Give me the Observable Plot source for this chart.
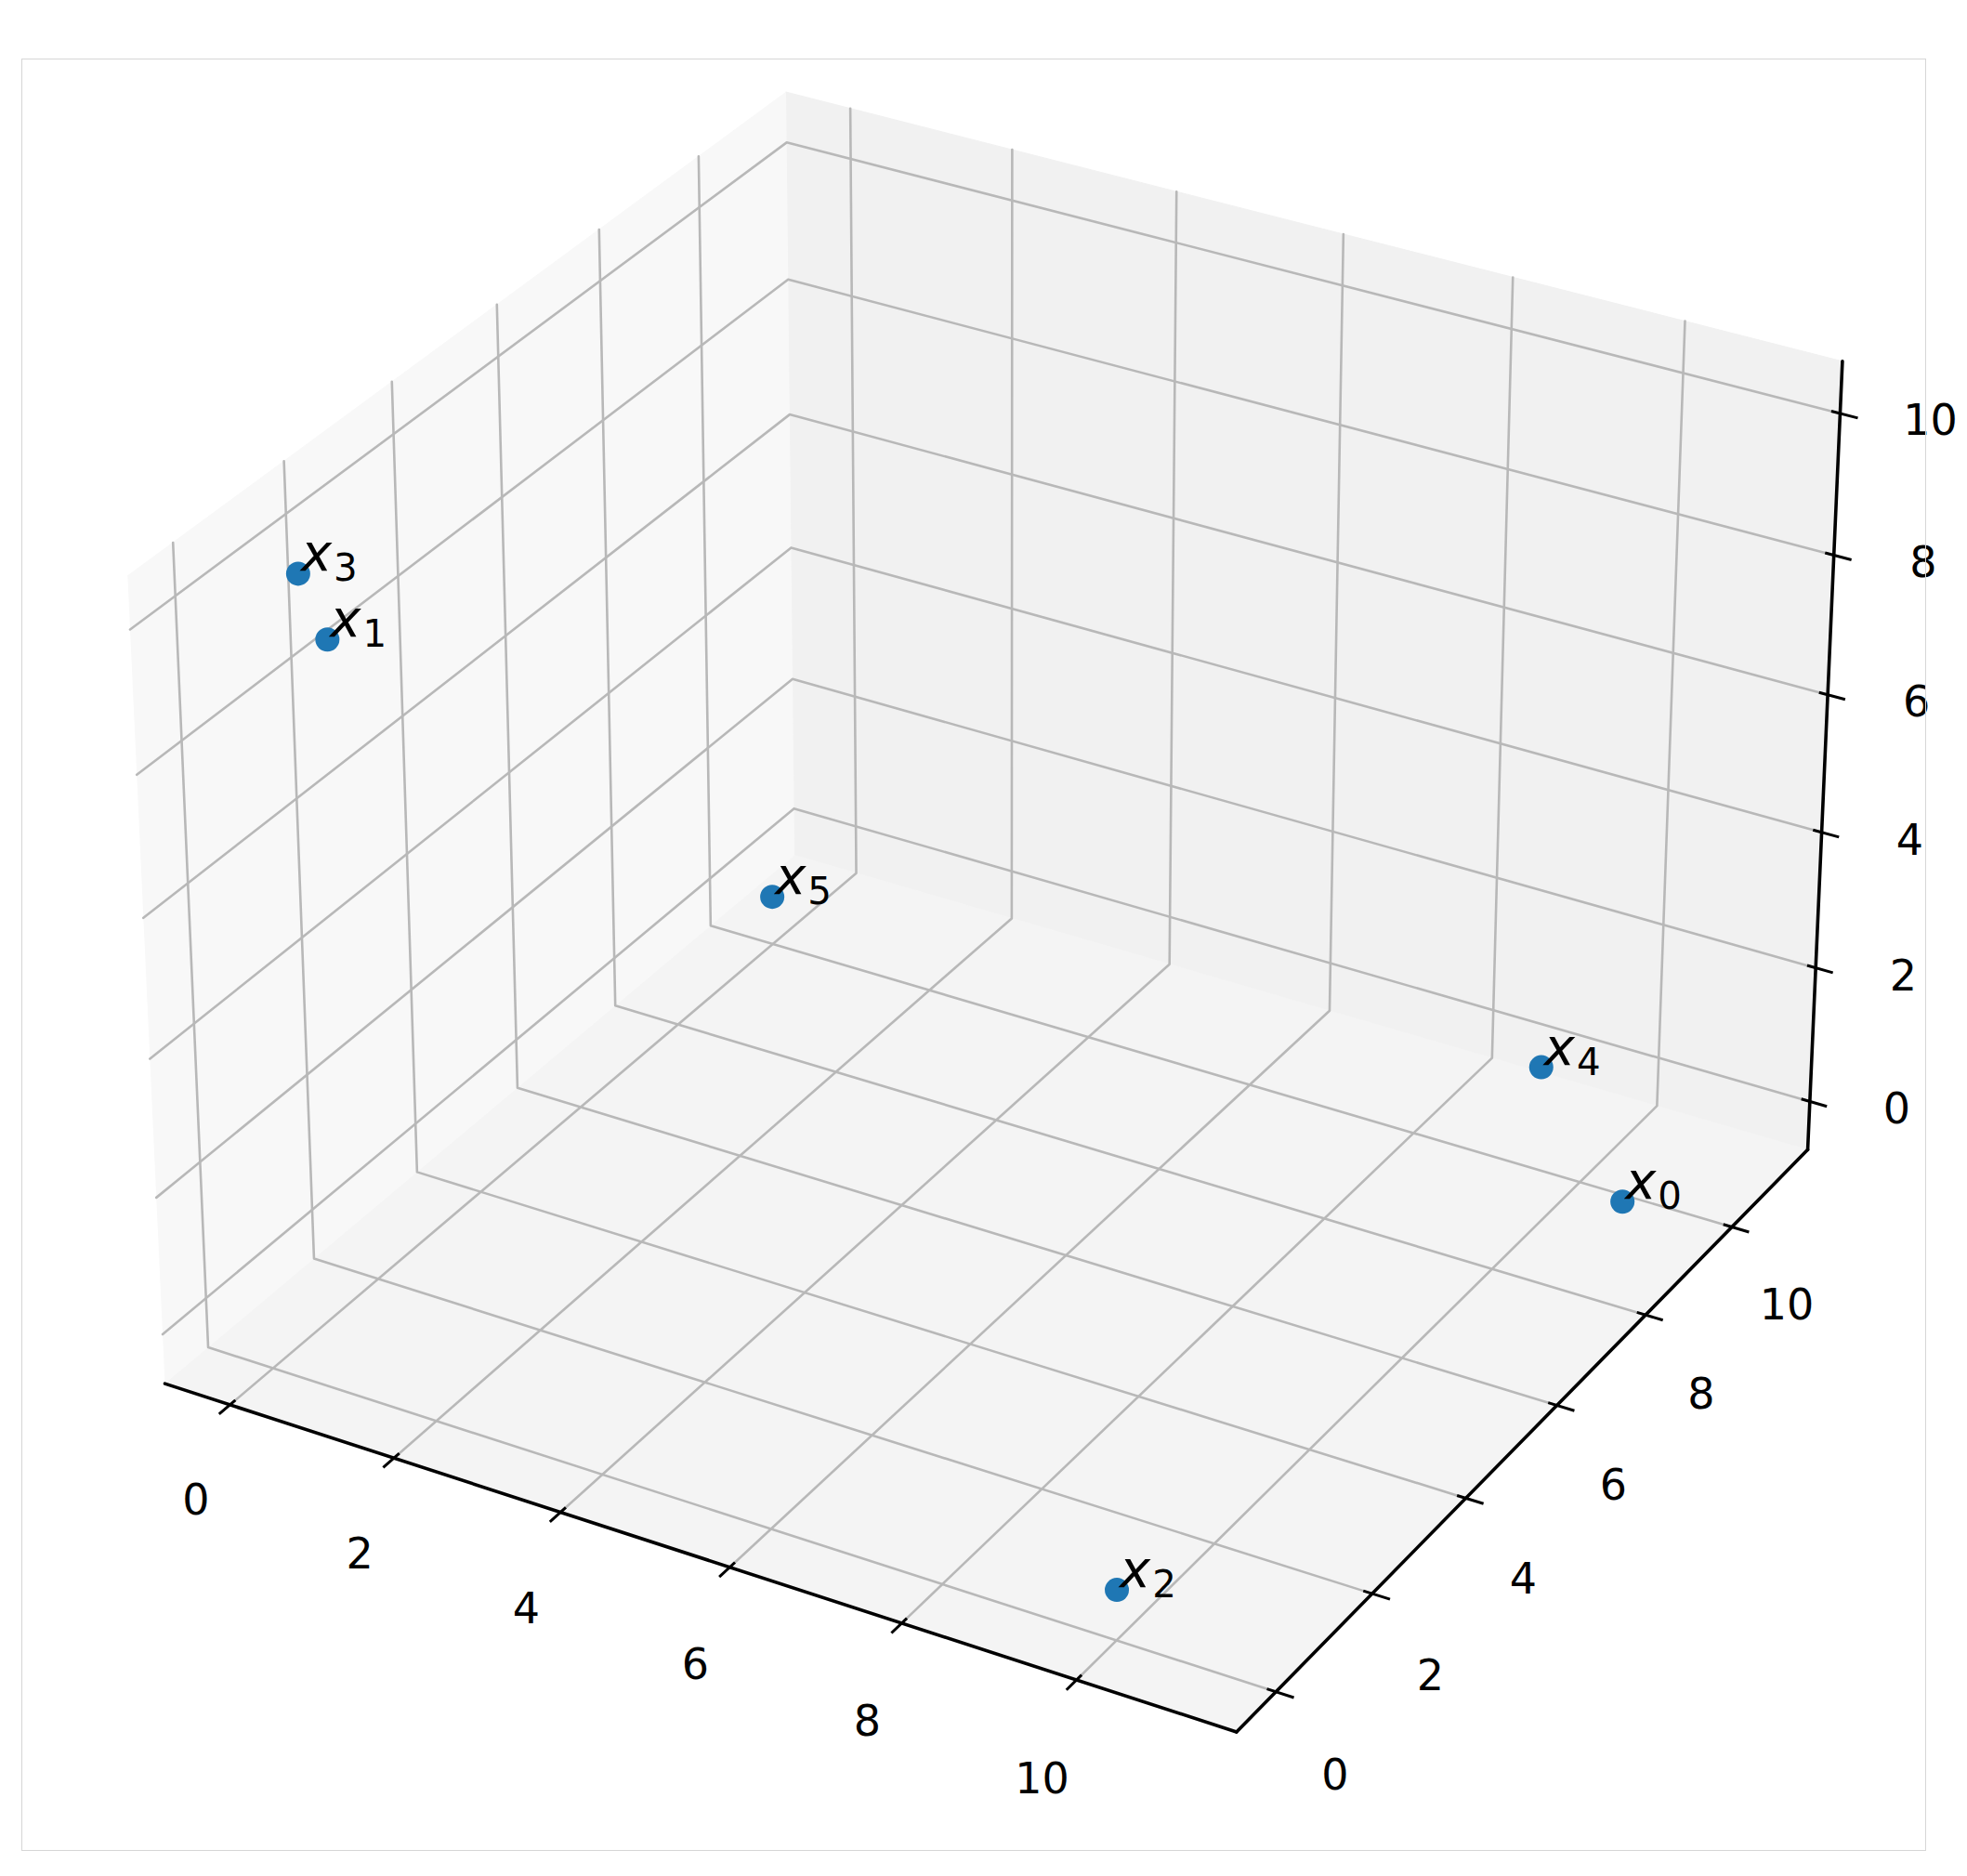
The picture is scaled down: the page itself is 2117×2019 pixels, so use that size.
<!DOCTYPE html>
<html>
<head>
<meta charset="utf-8">
<script src="https://cdn.jsdelivr.net/npm/d3@7"></script>
<script src="https://cdn.jsdelivr.net/npm/@observablehq/plot@0.6"></script>
<style>
  html, body { margin: 0; padding: 0; background: #ffffff; }
  #wrap { position: relative; width: 2117px; height: 2019px; overflow: hidden; }
  #frame { position: absolute; left: 23px; top: 63px; width: 2050px; height: 1929px;
           border: 1.5px solid #d6d6d6; pointer-events: none; box-sizing: border-box; }
</style>
</head>
<body>
<div id="wrap"><div id="frame"></div></div>
<script>
// ---- data ----
const pointNames = ["x0", "x1", "x2", "x3", "x4", "x5"];
const pointX = [11, 1, 10, 0, 9, 0];
const pointY = [9, 0, 0, 1, 11, 10];
const pointZ = [0, 10, 0, 10, 0, 0];
const xTicks = [0, 2, 4, 6, 8, 10];
const yTicks = [0, 2, 4, 6, 8, 10];
const zTicks = [0, 2, 4, 6, 8, 10];
const xTickLabels = ["0", "2", "4", "6", "8", "10"];
const yTickLabels = ["0", "2", "4", "6", "8", "10"];
const zTickLabels = ["0", "2", "4", "6", "8", "10"];

// ---- matplotlib-like 3D autoscale (5% margin) and pane extension (range/48) ----
function limits(vals) {
  const lo = d3.min(vals), hi = d3.max(vals);
  const m = (hi - lo) * 0.05;
  const a = lo - m, b = hi + m;
  const dd = (b - a) / 48;
  return {lo: a - dd, hi: b + dd, delta: (b - a) / 12};
}
const LX = limits(pointX), LY = limits(pointY), LZ = limits(pointZ);

// ---- matplotlib Axes3D projection (elev=30, azim=-60, persp, dist=10) ----
const elev = 30, azim = -60, dist = 10;
const aspect0 = [4, 4, 3];
const an = Math.hypot(...aspect0);
const box = aspect0.map(a => a * 1.8294640721620434 / an);
const Rc = box.map(b => b / 2);
const er = elev * Math.PI / 180, ar = azim * Math.PI / 180;
const ps = [Math.cos(er) * Math.cos(ar), Math.cos(er) * Math.sin(ar), Math.sin(er)];
const eye = Rc.map((r, i) => r + dist * ps[i]);
const norm = v => { const l = Math.hypot(...v); return v.map(c => c / l); };
const cross = (a, b) => [a[1]*b[2]-a[2]*b[1], a[2]*b[0]-a[0]*b[2], a[0]*b[1]-a[1]*b[0]];
const dot3 = (a, b) => a[0]*b[0] + a[1]*b[1] + a[2]*b[2];
const wv = norm(eye.map((e, i) => e - Rc[i]));
const uv = norm(cross([0, 0, 1], wv));
const vv = cross(wv, uv);
function proj(x, y, z) {
  const P = [
    (x - LX.lo) / (LX.hi - LX.lo) * box[0],
    (y - LY.lo) / (LY.hi - LY.lo) * box[1],
    (z - LZ.lo) / (LZ.hi - LZ.lo) * box[2]
  ];
  const d = P.map((p, i) => p - eye[i]);
  const zv = dot3(wv, d);
  return {X: dot3(uv, d) / -zv, Y: dot3(vv, d) / -zv};
}

// ---- panes ----
const {lo: x0, hi: x1} = LX, {lo: y0, hi: y1} = LY, {lo: z0, hi: z1} = LZ;
const panes = [
  {name: "xpane", fill: "#f8f8f8", corners: [[x0,y0,z0],[x0,y1,z0],[x0,y1,z1],[x0,y0,z1]]},
  {name: "ypane", fill: "#f1f1f1", corners: [[x0,y1,z0],[x1,y1,z0],[x1,y1,z1],[x0,y1,z1]]},
  {name: "zpane", fill: "#f4f4f4", corners: [[x0,y0,z0],[x1,y0,z0],[x1,y1,z0],[x0,y1,z0]]}
];

// ---- grid lines ----
const gridRows = [];
xTicks.forEach(t => [[t,y0,z0],[t,y1,z0],[t,y1,z1]].forEach(c => gridRows.push({id: "gx" + t, ...proj(...c)})));
yTicks.forEach(t => [[x1,t,z0],[x0,t,z0],[x0,t,z1]].forEach(c => gridRows.push({id: "gy" + t, ...proj(...c)})));
zTicks.forEach(t => [[x0,y0,t],[x0,y1,t],[x1,y1,t]].forEach(c => gridRows.push({id: "gz" + t, ...proj(...c)})));

// ---- axis lines ----
const axisRows = [];
[["ax", [x0,y0,z0], [x1,y0,z0]], ["ay", [x1,y0,z0], [x1,y1,z0]], ["az", [x1,y1,z0], [x1,y1,z1]]]
  .forEach(([id, a, b]) => { axisRows.push({id, ...proj(...a)}); axisRows.push({id, ...proj(...b)}); });

// ---- tick marks ----
const tOut = 0.2, tIn = 0.1;
const tickRows = [];
function addTick(a, b) { const p = proj(...a), q = proj(...b); tickRows.push({X1: p.X, Y1: p.Y, X2: q.X, Y2: q.Y}); }
xTicks.forEach(t => addTick([t, y0 + tIn*LY.delta, z0], [t, y0 - tOut*LY.delta, z0]));
yTicks.forEach(t => addTick([x1 - tIn*LX.delta, t, z0], [x1 + tOut*LX.delta, t, z0]));
zTicks.forEach(t => addTick([x1 - tIn*LX.delta, y1, t], [x1 + tOut*LX.delta, y1, t]));

// ---- tick labels ----
const labelRows = [];
xTicks.forEach((t, i) => labelRows.push({label: xTickLabels[i], ...proj(t, y0 - 0.675*LY.delta, z0 - 1.04*LZ.delta)}));
yTicks.forEach((t, i) => labelRows.push({label: yTickLabels[i], ...proj(x1 + 0.67*LX.delta, t, z0 - 1.02*LZ.delta)}));
zTicks.forEach((t, i) => labelRows.push({label: zTickLabels[i], ...proj(x1 + 0.87*LX.delta, y1 + 0.30*LY.delta, t)}));

// ---- points ----
const pointRows = pointNames.map((n, i) => ({name: n, ...proj(pointX[i], pointY[i], pointZ[i])}));

const marks = [
  ...panes.map(p => Plot.line(p.corners.map(c => proj(...c)), {x: "X", y: "Y", fill: p.fill, stroke: p.fill, strokeWidth: 1})),
  Plot.line(gridRows, {x: "X", y: "Y", z: "id", stroke: "#b8b8b8", strokeWidth: 2.6}),
  Plot.line(axisRows, {x: "X", y: "Y", z: "id", stroke: "#000000", strokeWidth: 3.6}),
  Plot.link(tickRows, {x1: "X1", y1: "Y1", x2: "X2", y2: "Y2", stroke: "#000000", strokeWidth: 3}),
  Plot.text(labelRows, {x: "X", y: "Y", text: "label", fontSize: 46, fontFamily: "DejaVu Sans",
    fill: "#000000", textAnchor: "middle", lineAnchor: "middle"}),
  Plot.dot(pointRows, {x: "X", y: "Y", r: 13, fill: "#1f77b4"}),
  Plot.text(pointRows, {x: "X", y: "Y", text: "name", fontSize: 56, fontFamily: "DejaVu Sans",
    fill: "#000000", textAnchor: "start", lineAnchor: "bottom", dx: 3, dy: -3})
];

const svg = Plot.plot({
  width: 2117,
  height: 2019,
  margin: 0,
  x: {domain: [-0.095, 0.09], range: [-21.9, 2117.5], axis: null},
  y: {domain: [-0.095, 0.09], range: [2038.9, -100.5], axis: null},
  style: {background: "#ffffff", fontFamily: "DejaVu Sans", color: "#000000"},
  marks
});

// math-style labels: italic x with upright subscript digit
d3.select(svg).selectAll("text")
  .filter(function () { return /^x\d$/.test(this.textContent); })
  .each(function () {
    const t = this.textContent;
    this.textContent = "";
    const s = d3.select(this);
    s.append("tspan").attr("font-style", "italic").text("x");
    s.append("tspan").attr("font-size", "72%").attr("dx", 2).attr("dy", 11).text(t.slice(1));
  });

document.getElementById("wrap").prepend(svg);
</script>
</body>
</html>
